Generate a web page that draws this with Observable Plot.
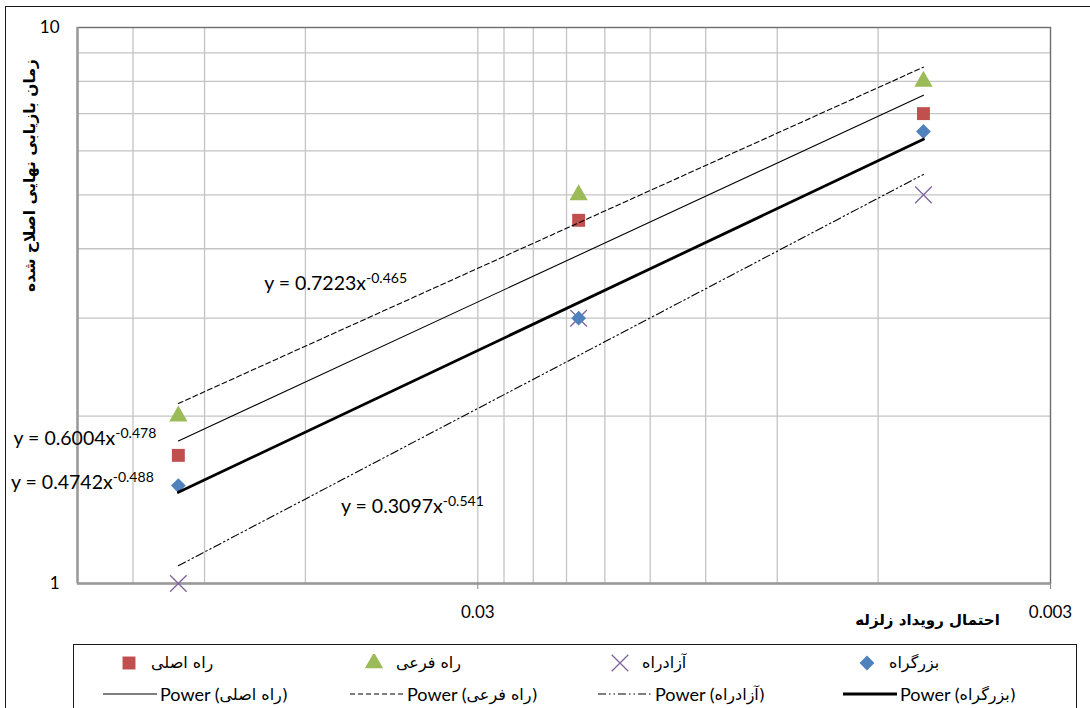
<!DOCTYPE html>
<html>
<head>
<meta charset="utf-8">
<script src="https://cdn.jsdelivr.net/npm/d3@7"></script>
<script src="https://cdn.jsdelivr.net/npm/@observablehq/plot@0.6"></script>
<style>
  html, body { margin: 0; padding: 0; background: #fff; width: 1090px; height: 708px; overflow: hidden; }
  #outer { position: absolute; left: 5px; top: 6px; width: 1110px; height: 740px; border: 1.5px solid #1a1a1a; box-sizing: border-box; }
  #chart { position: absolute; left: 0; top: 0; }
  #legend { position: absolute; left: 73px; top: 644px; width: 1004px; height: 90px; border: 1.5px solid #1a1a1a; box-sizing: border-box; background: #fff; }
  .cell { position: absolute; display: flex; align-items: center; white-space: nowrap; }
  .fa { font-family: "DejaVu Sans", sans-serif; font-size: 16px; color: #000; }
  .lat { font-family: Lato, "DejaVu Sans", sans-serif; font-size: 18px; color: #000; }
</style>
</head>
<body>
<div id="outer"></div>
<div id="chart"></div>
<div id="legend"></div>
<script>
// ---------- data ----------
const seriesNames = ["راه اصلی", "راه فرعی", "آزادراه", "بزرگراه"];
const probabilities = [0.1, 0.02, 0.005];
const mainRoadTimes = [1.7, 4.5, 7.0];
const secondaryRoadTimes = [2.0, 5.0, 8.0];
const freewayTimes = [1.0, 3.0, 5.0];
const highwayTimes = [1.5, 3.0, 6.5];
const seriesValues = [mainRoadTimes, secondaryRoadTimes, freewayTimes, highwayTimes];
const powerA = [0.6004, 0.7223, 0.3097, 0.4742];
const powerB = [-0.478, -0.465, -0.541, -0.488];
const xDomain = [0.15, 0.003];
const yDomain = [1, 10];
const xTickValues = [0.03, 0.003];
const yTickValues = [1, 10];
const xGridValues = [0.006, 0.009, 0.012, 0.015, 0.018, 0.021, 0.024, 0.027, 0.03, 0.06, 0.09, 0.12];
const yGridValues = [2, 3, 4, 5, 6, 7, 8, 9];
const xTitle = "احتمال رویداد زلزله";
const yTitle = "زمان بازیابی نهایی اصلاح شده";
// equation label anchors (data units)
const eqLabelX = [0.194, 0.0708, 0.052, 0.196];
const eqLabelY = [1.823, 3.46, 1.376, 1.519];

// ---------- styles ----------
// square rotated 45 degrees (Excel-like diamond)
const squareDiamond = {
  draw(ctx, size) {
    const h = Math.sqrt(size / Math.PI);
    ctx.moveTo(0, -h); ctx.lineTo(h, 0); ctx.lineTo(0, h); ctx.lineTo(-h, 0); ctx.closePath();
  }
};
const seriesStyle = [
  { symbol: "square",      color: "#C0504D", r: 7.3, lineWidth: 1.1, dash: null },
  { symbol: "triangle",    color: "#9BBB59", r: 6.8, lineWidth: 1.1, dash: "5,3" },
  { symbol: "times",       color: "#8064A2", r: 7.6, lineWidth: 1.1, dash: "8,3,1.5,3,1.5,3" },
  { symbol: squareDiamond, color: "#4F81BD", r: 7.4, lineWidth: 2.8, dash: null }
];
const FONT = "Lato, 'DejaVu Sans', sans-serif";
const FA = "'DejaVu Sans', sans-serif";

// ---------- derived tables ----------
const points = seriesNames.map((s, i) => probabilities.map((p, j) => ({ series: s, p, t: seriesValues[i][j] })));
const trendEnds = [probabilities[0], probabilities[probabilities.length - 1]];
const trends = seriesNames.map((s, i) => trendEnds.map(p => ({ series: s, p, t: powerA[i] * Math.pow(p, powerB[i]) })));
const eqLabels = seriesNames.map((s, i) => ({ x: eqLabelX[i], y: eqLabelY[i], text: `y = ${powerA[i]}x^${powerB[i]}` }));

const grid = { stroke: "#c4c4c4", strokeWidth: 1.3, strokeOpacity: 1 };

const marks = [
  Plot.ruleX(xGridValues, { x: d => d, ...grid }),
  Plot.ruleY(yGridValues, { y: d => d, ...grid }),
  Plot.frame({ stroke: "#6e6e6e", strokeWidth: 1.4 }),
  Plot.ruleX([xDomain[0]], { x: d => d, stroke: "#9a9a9a", strokeWidth: 2.4 }),
  Plot.ruleY([yDomain[0]], { y: d => d, stroke: "#9a9a9a", strokeWidth: 2.4 }),
  Plot.axisX(xTickValues, { tickFormat: d => String(d), tickSize: 6, tickPadding: 16, stroke: "#8a8a8a", fontSize: 17, fontFamily: FONT, fill: "#000" }),
  Plot.axisY(yTickValues, { tickFormat: d => String(d), tickSize: 0, tickPadding: 18, fontSize: 17, fontFamily: FONT, fill: "#000" })
];
seriesStyle.forEach((st, i) => {
  if (st.symbol === "times") {
    marks.push(Plot.dot(points[i], { x: "p", y: "t", symbol: () => st.symbol, r: st.r, stroke: st.color, strokeWidth: 1.3, fill: "none" }));
  } else {
    marks.push(Plot.dot(points[i], { x: "p", y: "t", symbol: () => st.symbol, r: st.r, fill: st.color, stroke: "none" }));
  }
});
seriesStyle.forEach((st, i) => {
  marks.push(Plot.line(trends[i], { x: "p", y: "t", stroke: "#000", strokeWidth: st.lineWidth, strokeDasharray: st.dash || undefined }));
});
marks.push(Plot.text(eqLabels, { x: "x", y: "y", text: "text", textAnchor: "start", lineAnchor: "middle", fontSize: 19.5, fontFamily: FONT, fill: "#000", clip: false }));
marks.push(Plot.text([yTitle], { frameAnchor: "top-left", dx: -47, dy: 148, rotate: -90, textAnchor: "middle", lineAnchor: "middle", text: d => d, fontSize: 15.5, fontWeight: "bold", fontFamily: FA, fill: "#000" }));
marks.push(Plot.text([xTitle], { frameAnchor: "bottom-right", dx: -123, dy: 37, textAnchor: "middle", lineAnchor: "middle", text: d => d, fontSize: 15, fontWeight: "bold", fontFamily: FA, fill: "#000" }));

const chart = Plot.plot({
  width: 1090,
  height: 640,
  marginLeft: 77,
  marginRight: 40,
  marginTop: 27,
  marginBottom: 57,
  style: { fontFamily: FONT, background: "transparent", overflow: "visible" },
  x: { type: "log", domain: xDomain, axis: null },
  y: { type: "log", domain: yDomain, axis: null },
  symbol: { type: "identity" },
  marks
});
document.getElementById("chart").appendChild(chart);

// superscript exponents in equation labels
chart.querySelectorAll("text").forEach(t => {
  const s = t.textContent;
  if (s.includes("^")) {
    const [base, exp] = s.split("^");
    t.textContent = base;
    const ts = document.createElementNS("http://www.w3.org/2000/svg", "tspan");
    ts.setAttribute("dy", "-0.5em");
    ts.setAttribute("font-size", "0.72em");
    ts.textContent = exp;
    t.appendChild(ts);
  }
});

// ---------- legend ----------
const legend = document.getElementById("legend");
const markerCenters = [55, 300, 546, 793];
const lineStarts = [29, 276, 524, 769];
const NS = "http://www.w3.org/2000/svg";
function markerSvg(st) {
  const svg = document.createElementNS(NS, "svg");
  svg.setAttribute("width", 18); svg.setAttribute("height", 18);
  const p = document.createElementNS(NS, "path");
  const named = { square: d3.symbolSquare, triangle: d3.symbolTriangle, times: d3.symbolTimes };
  const sym = typeof st.symbol === "string" ? named[st.symbol] : st.symbol;
  p.setAttribute("d", d3.symbol(sym, Math.PI * st.r * st.r)());
  p.setAttribute("transform", "translate(9,9)");
  if (st.symbol === "times") { p.setAttribute("fill", "none"); p.setAttribute("stroke", st.color); p.setAttribute("stroke-width", 1.3); }
  else p.setAttribute("fill", st.color);
  svg.appendChild(p);
  return svg;
}
function lineSvg(st) {
  const svg = document.createElementNS(NS, "svg");
  svg.setAttribute("width", 54); svg.setAttribute("height", 10);
  const l = document.createElementNS(NS, "line");
  l.setAttribute("x1", 0); l.setAttribute("x2", 54); l.setAttribute("y1", 5); l.setAttribute("y2", 5);
  l.setAttribute("stroke", "#000"); l.setAttribute("stroke-width", st.lineWidth);
  if (st.dash) l.setAttribute("stroke-dasharray", st.dash);
  svg.appendChild(l);
  return svg;
}
seriesNames.forEach((name, i) => {
  const st = seriesStyle[i];
  const c1 = document.createElement("div");
  c1.className = "cell";
  c1.style.left = (markerCenters[i] - 9) + "px";
  c1.style.top = "8px";
  c1.appendChild(markerSvg(st));
  const s1 = document.createElement("span");
  s1.className = "fa"; s1.style.marginLeft = "13px"; s1.textContent = name;
  c1.appendChild(s1);
  legend.appendChild(c1);

  const c2 = document.createElement("div");
  c2.className = "cell";
  c2.style.left = lineStarts[i] + "px";
  c2.style.top = "38px";
  c2.appendChild(lineSvg(st));
  const s2 = document.createElement("span");
  s2.className = "lat"; s2.style.marginLeft = "3px";
  s2.textContent = "Power (";
  const s3 = document.createElement("span");
  s3.className = "fa"; s3.textContent = name + ")";
  c2.appendChild(s2); c2.appendChild(s3);
  legend.appendChild(c2);
});
</script>
</body>
</html>
